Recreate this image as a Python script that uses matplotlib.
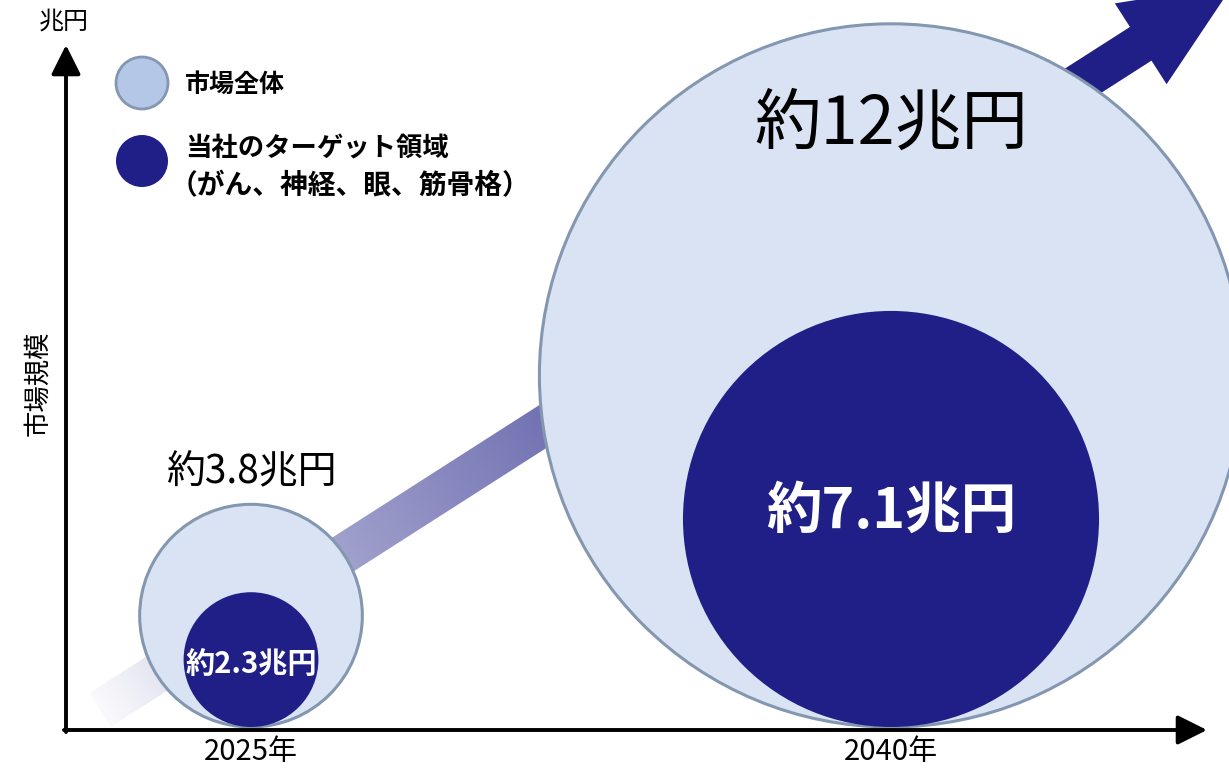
import numpy as np
import matplotlib.pyplot as plt
from matplotlib.patches import Circle, Polygon

plt.rcParams['font.family'] = ['Noto Sans CJK JP', 'DejaVu Sans']

# data (兆円)
years = [2025, 2040]
market_total = [3.8, 12.0]
market_target = [2.3, 7.1]
total_labels = ['約3.8兆円', '約12兆円']
target_labels = ['約2.3兆円', '約7.1兆円']
year_labels = ['2025年', '2040年']
legend_labels = ['市場全体', '当社のターゲット領域', '（がん、神経、眼、筋骨格）']

LIGHT = '#dae3f3'
LIGHT_LEG = '#b4c7e7'
EDGE = '#8497b0'
NAVY = '#1f1f87'

# layout: figure in pixels, 1 兆円 of radius = U px
W, H = 1229, 769
U = 29.3
BASE = 727  # pixel row of the x axis


def px(x, y):
    # pixel position -> data coords (y up, x axis at 0)
    return x / U, (BASE - y) / U


def xpos(year):
    return (251 + (year - 2025) * (891 - 251) / 15) / U


fig = plt.figure(figsize=(W / 100, H / 100), dpi=100)
ax = fig.add_axes([0, 0, 1, 1])
ax.set_axis_off()

# big gradient arrow behind the bubbles
S = np.array([100.0, 710.0])
u = np.array([0.842, -0.539])
n = np.array([0.539, 0.842])
shaft_len, head_len = 1236, 110
B = S + u * shaft_len
pts_px = [S - 20 * n, B - 20 * n, B - 48 * n, B + head_len * u,
          B + 48 * n, B + 20 * n, S + 20 * n]
pts = np.array([px(*p) for p in pts_px])
poly = Polygon(pts, closed=True, facecolor='none', edgecolor='none')
ax.add_patch(poly)

x0, y0 = pts.min(axis=0)
x1, y1 = pts.max(axis=0)
gx, gy = np.meshgrid(np.linspace(x0, x1, 500), np.linspace(y0, y1, 500))
Sd = np.array(px(*S))
ud = np.array([u[0], -u[1]])
t = ((gx - Sd[0]) * ud[0] + (gy - Sd[1]) * ud[1]) / ((shaft_len + head_len) / U)
f = np.interp(t, [0, 0.22, 0.39, 0.8, 1], [0.02, 0.43, 0.62, 1, 1])
navy = np.array([31, 31, 135]) / 255
img = (1 - f[..., None]) * 1.0 + f[..., None] * navy
im = ax.imshow(img, extent=[x0, x1, y0, y1], origin='lower', zorder=1,
               interpolation='bilinear')
im.set_clip_path(poly)

# bubbles
for yr, tot, tgt in zip(years, market_total, market_target):
    cx = xpos(yr)
    ax.add_patch(Circle((cx, tot), tot, facecolor=LIGHT, edgecolor=EDGE,
                        lw=2.2, zorder=2))
    ax.add_patch(Circle((cx, tgt), tgt, facecolor=NAVY, edgecolor='none',
                        zorder=3))

ax.text(xpos(years[0]), px(0, 472)[1], total_labels[0], ha='center',
        va='center', fontsize=28, color='black', zorder=6)
ax.text(xpos(years[1]), px(0, 125)[1], total_labels[1], ha='center',
        va='center', fontsize=48, color='black', zorder=6)
ax.text(xpos(years[0]), px(0, 664)[1], target_labels[0], ha='center',
        va='center', fontsize=21, fontweight='bold', color='white', zorder=6)
ax.text(xpos(years[1]), px(0, 512)[1], target_labels[1], ha='center',
        va='center', fontsize=40, fontweight='bold', color='white', zorder=6)

for yr, lab in zip(years, year_labels):
    ax.text(xpos(yr), px(0, 752)[1], lab, ha='center', va='center',
            fontsize=21, zorder=6)

# axes arrows
ax.annotate('', xy=px(66, 45), xytext=px(66, 732),
            arrowprops=dict(arrowstyle='-|>', mutation_scale=45, lw=2.8,
                            color='black', shrinkA=0, shrinkB=0), zorder=5)
ax.annotate('', xy=px(1207, 730), xytext=px(64, 730),
            arrowprops=dict(arrowstyle='-|>', mutation_scale=45, lw=2.8,
                            color='black', shrinkA=0, shrinkB=0), zorder=5)
ax.text(*px(64, 22), '兆円', ha='center', va='center', fontsize=18)
ax.text(*px(38, 383), '市場規模', ha='center', va='center', fontsize=19,
        rotation=90)

# legend
ax.add_patch(Circle(px(142, 83), 26 / U, facecolor=LIGHT_LEG, edgecolor=EDGE,
                    lw=2, zorder=4))
ax.add_patch(Circle(px(142, 161), 26 / U, facecolor=NAVY, edgecolor='none',
                    zorder=4))
ax.text(*px(185, 85), legend_labels[0], ha='left', va='center', fontsize=18,
        fontweight='bold')
ax.text(*px(185, 148), legend_labels[1], ha='left', va='center', fontsize=19,
        fontweight='bold')
ax.text(*px(170, 186), legend_labels[2], ha='left', va='center', fontsize=20,
        fontweight='bold')

ax.set_aspect('auto')
ax.set_xlim(0, W / U)
ax.set_ylim((BASE - H) / U, BASE / U)

fig.savefig('out.png', dpi=100)
